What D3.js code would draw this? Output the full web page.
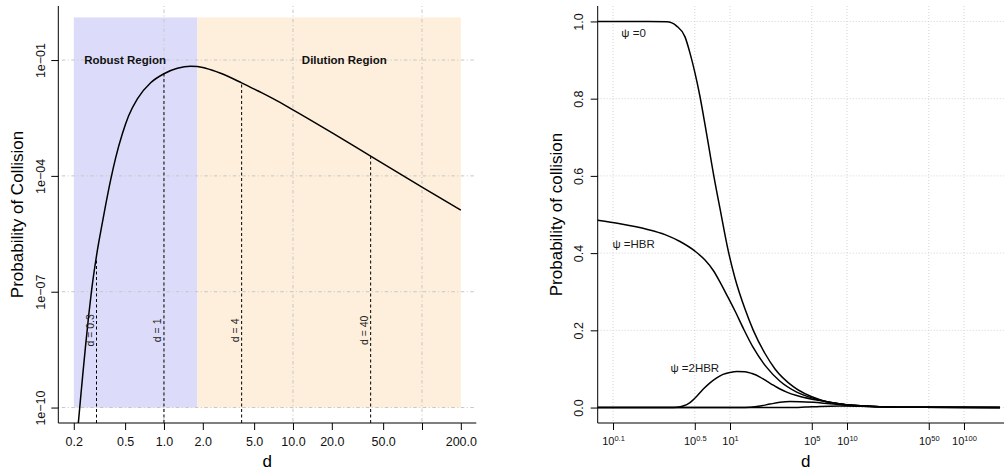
<!DOCTYPE html>
<html>
<head>
<meta charset="utf-8">
<script src="https://cdn.jsdelivr.net/npm/d3@7"></script>
<style>
  body { margin: 0; background: #fff; }
  svg { display: block; }
  text { font-family: "Liberation Sans", Arial, Helvetica, sans-serif; }
</style>
</head>
<body>
<svg id="chart" width="1004" height="474"></svg>
<script>
// ---------- Left panel: probability of collision vs. scale factor d ----------
const leftD = [0.2124, 0.2221, 0.2343, 0.2472, 0.2608, 0.2751, 0.3, 0.3231, 0.3533, 0.3862, 0.4222, 0.4759, 0.5324, 0.6221, 0.7887, 1, 1.27, 1.611, 1.815, 2.105, 2.751, 4, 5.326, 7.124, 10, 20, 40, 100, 200];
const leftP = [1.85e-11, 9.5e-11, 6.62e-10, 4.21e-9, 2.38e-8, 1.12e-7, 8.5e-7, 3.56e-6, 1.78e-5, 7.92e-5, 2.94e-4, 1.23e-3, 3.61e-3, 9.93e-3, 0.0258, 0.0442, 0.0610, 0.0690, 0.0682, 0.0614, 0.0455, 0.0257, 0.0160, 0.00977, 0.00515, 0.00132, 3.24e-4, 5.13e-5, 1.29e-5];
const markerD = [0.3, 1, 4, 40];
const markerLabels = ["d = 0.3", "d = 1", "d = 4", "d = 40"];
const regionNames = ["Robust Region", "Dilution Region"];
const regionStart = [0.2, 1.815];
const regionEnd = [1.815, 200];
const regionLabelD = [0.5, 25];
const regionTop = 1.27, regionBottom = 1e-10;
const leftXTicks = [0.2, 0.5, 1, 2, 5, 10, 20, 50, 100, 200];
const leftXTickLabels = ["0.2", "0.5", "1.0", "2.0", "5.0", "10.0", "20.0", "50.0", "", "200.0"];
const leftYTicks = [1e-10, 1e-7, 1e-4, 1e-1];
const leftYTickLabels = ["1e\u221210", "1e\u221207", "1e\u221204", "1e\u221201"];
const leftGridX = [1, 10, 100];

// ---------- Right panel: probability of collision vs. d (double log axis) ----------
// x values are exponents e, with d = 10^e
const psi0Exp = [0.074, 0.2, 0.2877, 0.3503, 0.4125, 0.455, 0.5022, 0.5541, 0.6113, 0.6746, 0.7198, 0.8215, 0.9671, 1.1036, 1.3434, 1.5817, 1.9911, 2.4245, 3.4754, 5.877, 9.94, 19.15, 42.06, 203];
const psi0P   = [1.0, 1.0, 0.999, 0.988, 0.96, 0.918, 0.866, 0.805, 0.733, 0.657, 0.607, 0.515, 0.405, 0.335, 0.255, 0.2, 0.14, 0.1, 0.054, 0.02, 0.007, 0.002, 0.0005, 0.00002];
const psiHbrExp = [0.074, 0.1148, 0.1941, 0.2782, 0.3737, 0.5022, 0.6113, 0.7198, 0.8215, 0.9371, 1.1036, 1.2994, 1.5817, 2.0592, 2.6755, 3.7166, 5.152, 5.877, 9.94, 19.15, 42.06, 203];
const psiHbrP   = [0.485, 0.476, 0.462, 0.448, 0.43, 0.405, 0.382, 0.355, 0.325, 0.292, 0.25, 0.205, 0.155, 0.104, 0.068, 0.04, 0.024, 0.019, 0.007, 0.002, 0.0005, 0.00002];
const psi2HbrExp = [0.074, 0.307, 0.3524, 0.3965, 0.455, 0.5224, 0.5913, 0.6746, 0.7697, 0.8713, 1.0, 1.1477, 1.3434, 1.5418, 1.8047, 2.0714, 2.3452, 2.6755, 3.052, 3.7166, 5.152, 5.877, 9.94, 19.15, 42.06, 203];
const psi2HbrP   = [0, 0, 0.001, 0.004, 0.013, 0.03, 0.048, 0.064, 0.077, 0.086, 0.091, 0.0935, 0.093, 0.088, 0.079, 0.068, 0.058, 0.048, 0.04, 0.031, 0.021, 0.018, 0.0068, 0.002, 0.0005, 0.00002];
const psi3HbrExp = [0.074, 1.2174, 1.4823, 1.8047, 2.1974, 2.6755, 3.2577, 3.9665, 5.152, 7.155, 9.94, 19.15, 42.06, 203];
const psi3HbrP   = [0, 0, 0.001, 0.004, 0.009, 0.0135, 0.0155, 0.0152, 0.0135, 0.0098, 0.0065, 0.002, 0.0005, 0.00002];
const psi4HbrExp = [0.074, 3.2577, 4.375, 5.877, 8.713, 12.92, 19.15, 42.06, 203];
const psi4HbrP   = [0, 0, 0.0012, 0.003, 0.004, 0.0035, 0.002, 0.0005, 0.00002];
const rightXTicks = [0.1, 0.5, 1, 5, 10, 50, 100];
const rightXTickSup = ["0.1", "0.5", "1", "5", "10", "50", "100"];
const rightYTicks = [0, 0.2, 0.4, 0.6, 0.8, 1.0];
const psiLabels = ["\u03C8 =0", "\u03C8 =HBR", "\u03C8 =2HBR"];
const psiLabelExp = [0.15, 0.15, 0.5];
const psiLabelP = [0.97, 0.425, 0.103];

const svg = d3.select("#chart");
const ink = "#000";

// ================= Left panel =================
const L = { left: 58.3, right: 476.3, top: 6, bottom: 423 };
const xL = d3.scaleLog().domain([Math.pow(10, -0.819), Math.pow(10, 2.421)]).range([L.left, L.right]);
const yL = d3.scaleLog().domain([Math.pow(10, -10.4), Math.pow(10, 0.4)]).range([L.bottom, L.top]);

const gl = svg.append("g");
svg.append("defs").append("clipPath").attr("id", "clipL")
  .append("rect").attr("x", L.left).attr("y", L.top)
  .attr("width", L.right - L.left).attr("height", L.bottom - L.top);

// shaded regions
const regionFill = ["#dcdcfa", "#fdefdc"];
gl.selectAll("rect.region").data(regionNames).join("rect")
  .attr("class", "region")
  .attr("x", (d, i) => xL(regionStart[i]))
  .attr("width", (d, i) => xL(regionEnd[i]) - xL(regionStart[i]))
  .attr("y", yL(regionTop))
  .attr("height", yL(regionBottom) - yL(regionTop))
  .attr("fill", (d, i) => regionFill[i]);

// dot-dash grid
const gridStyle = s => s.attr("stroke", "#c6c6c6").attr("stroke-width", 1).attr("stroke-dasharray", "1,2.5,3.5,2.5");
gl.selectAll("line.gx").data(leftGridX).join("line")
  .attr("x1", d => xL(d)).attr("x2", d => xL(d))
  .attr("y1", L.top).attr("y2", L.bottom).call(gridStyle);
gl.selectAll("line.gy").data(leftYTicks).join("line")
  .attr("x1", L.left).attr("x2", L.right)
  .attr("y1", d => yL(d)).attr("y2", d => yL(d)).call(gridStyle);

// curve
const leftPts = leftD.map((d, i) => [d, leftP[i]]);
gl.append("path")
  .datum(leftPts)
  .attr("clip-path", "url(#clipL)")
  .attr("fill", "none").attr("stroke", ink).attr("stroke-width", 1.5)
  .attr("d", d3.line().x(p => xL(p[0])).y(p => yL(p[1])).curve(d3.curveMonotoneX));

// dashed markers up to the curve
gl.selectAll("line.marker").data(markerD).join("line")
  .attr("x1", d => xL(d)).attr("x2", d => xL(d))
  .attr("y1", L.bottom)
  .attr("y2", d => yL(leftP[leftD.indexOf(d)]))
  .attr("stroke", ink).attr("stroke-width", 1).attr("stroke-dasharray", "3,2.5");
gl.selectAll("text.marker").data(markerD).join("text")
  .attr("transform", d => `translate(${xL(d) - 2.5},${yL(1e-8)}) rotate(-90)`)
  .attr("text-anchor", "middle")
  .attr("font-size", 10.5).attr("fill", "#222")
  .text((d, i) => markerLabels[i]);

// region labels
gl.selectAll("text.region").data(regionNames).join("text")
  .attr("x", (d, i) => xL(regionLabelD[i]))
  .attr("y", yL(0.1))
  .attr("dy", "0.36em")
  .attr("text-anchor", "middle")
  .attr("font-size", 11.5).attr("font-weight", "bold").attr("fill", "#111")
  .text(d => d);

// axes
const axLX = d3.axisBottom(xL).tickValues(leftXTicks)
  .tickFormat((d, i) => leftXTickLabels[i]).tickSize(7).tickPadding(7).tickSizeOuter(0);
const gLX = gl.append("g").attr("transform", `translate(0,${L.bottom})`).call(axLX);
const axLY = d3.axisLeft(yL).tickValues(leftYTicks)
  .tickFormat((d, i) => leftYTickLabels[i]).tickSize(7).tickSizeOuter(0);
const gLY = gl.append("g").attr("transform", `translate(${L.left},0)`).call(axLY);
gLY.selectAll(".tick text").attr("x", null).attr("dy", null)
  .attr("text-anchor", "middle")
  .attr("transform", "translate(-13.3,0) rotate(-90)");
[gLX, gLY].forEach(g => {
  g.select(".domain").remove();
  g.selectAll(".tick line").attr("stroke", ink);
  g.selectAll(".tick text").attr("font-size", 12.5).attr("fill", "#111")
    .attr("font-family", "'Liberation Sans', Arial, sans-serif");
});
gl.append("path")
  .attr("d", `M${L.left},${L.top}V${L.bottom}H${L.right}`)
  .attr("fill", "none").attr("stroke", ink).attr("stroke-width", 1);

gl.append("text").attr("transform", `translate(23.3,${(L.top + L.bottom) / 2}) rotate(-90)`)
  .attr("text-anchor", "middle").attr("font-size", 17).text("Probability of Collision");
gl.append("text").attr("x", (L.left + L.right) / 2).attr("y", 467)
  .attr("text-anchor", "middle").attr("font-size", 17).text("d");

// ================= Right panel =================
const R = { left: 597.7, right: 1013.7, top: 6, bottom: 423 };
const xR = d3.scaleLog().domain([Math.pow(10, -1.131), Math.pow(10, 2.425)]).range([R.left, R.right]);
const yR = d3.scaleLinear().domain([-0.04, 1.04]).range([R.bottom, R.top]);
const gr = svg.append("g");

// dotted grid
const dotStyle = s => s.attr("stroke", "#d3d3d3").attr("stroke-width", 1).attr("stroke-dasharray", "1,2");
gr.selectAll("line.gx").data(rightXTicks).join("line")
  .attr("x1", d => xR(d)).attr("x2", d => xR(d))
  .attr("y1", R.top).attr("y2", R.bottom).call(dotStyle);
gr.selectAll("line.gy").data(rightYTicks).join("line")
  .attr("x1", R.left).attr("x2", R.right)
  .attr("y1", d => yR(d)).attr("y2", d => yR(d)).call(dotStyle);

// curves
const seriesR = [
  [psi0Exp, psi0P], [psiHbrExp, psiHbrP], [psi2HbrExp, psi2HbrP],
  [psi3HbrExp, psi3HbrP], [psi4HbrExp, psi4HbrP]
].map(([ex, pv]) => ex.map((e, i) => [e, pv[i]]));
const lineR = d3.line().x(p => xR(p[0])).y(p => yR(p[1])).curve(d3.curveMonotoneX);
gr.selectAll("path.series").data(seriesR).join("path")
  .attr("class", "series")
  .attr("fill", "none").attr("stroke", ink).attr("stroke-width", 1.5)
  .attr("d", lineR);

// curve labels
gr.selectAll("text.psi").data(psiLabels).join("text")
  .attr("x", (d, i) => xR(psiLabelExp[i]))
  .attr("y", (d, i) => yR(psiLabelP[i]))
  .attr("dy", "0.36em")
  .attr("text-anchor", "middle")
  .attr("font-size", 11.5).attr("fill", "#1a1a1a")
  .text(d => d);

// axes
const axRX = d3.axisBottom(xR).tickValues(rightXTicks).tickFormat(() => "")
  .tickSize(7).tickSizeOuter(0);
const gRX = gr.append("g").attr("transform", `translate(0,${R.bottom})`).call(axRX);
gRX.selectAll(".tick text").each(function (d) {
  const t = d3.select(this);
  t.attr("y", 22).attr("dy", null).attr("font-size", 11).attr("fill", "#111")
    .attr("font-family", "'Liberation Sans', Arial, sans-serif");
  t.append("tspan").text("10");
  t.append("tspan").attr("dy", -4.5).attr("font-size", 7.5)
    .text(rightXTickSup[rightXTicks.indexOf(d)]);
});
const axRY = d3.axisLeft(yR).tickValues(rightYTicks).tickFormat(d3.format(".1f"))
  .tickSize(7).tickSizeOuter(0);
const gRY = gr.append("g").attr("transform", `translate(${R.left},0)`).call(axRY);
gRY.selectAll(".tick text").attr("x", null).attr("dy", null)
  .attr("text-anchor", "middle")
  .attr("font-size", 12.5).attr("fill", "#111")
  .attr("font-family", "'Liberation Sans', Arial, sans-serif")
  .attr("transform", "translate(-14.4,0) rotate(-90)");
[gRX, gRY].forEach(g => {
  g.select(".domain").remove();
  g.selectAll(".tick line").attr("stroke", ink);
});
gr.append("path")
  .attr("d", `M${R.left},${R.top}V${R.bottom}H${R.right}`)
  .attr("fill", "none").attr("stroke", ink).attr("stroke-width", 1);

gr.append("text").attr("transform", `translate(561.7,${(R.top + R.bottom) / 2}) rotate(-90)`)
  .attr("text-anchor", "middle").attr("font-size", 17).text("Probability of collision");
gr.append("text").attr("x", (R.left + R.right) / 2).attr("y", 467)
  .attr("text-anchor", "middle").attr("font-size", 17).text("d");
</script>
</body>
</html>
